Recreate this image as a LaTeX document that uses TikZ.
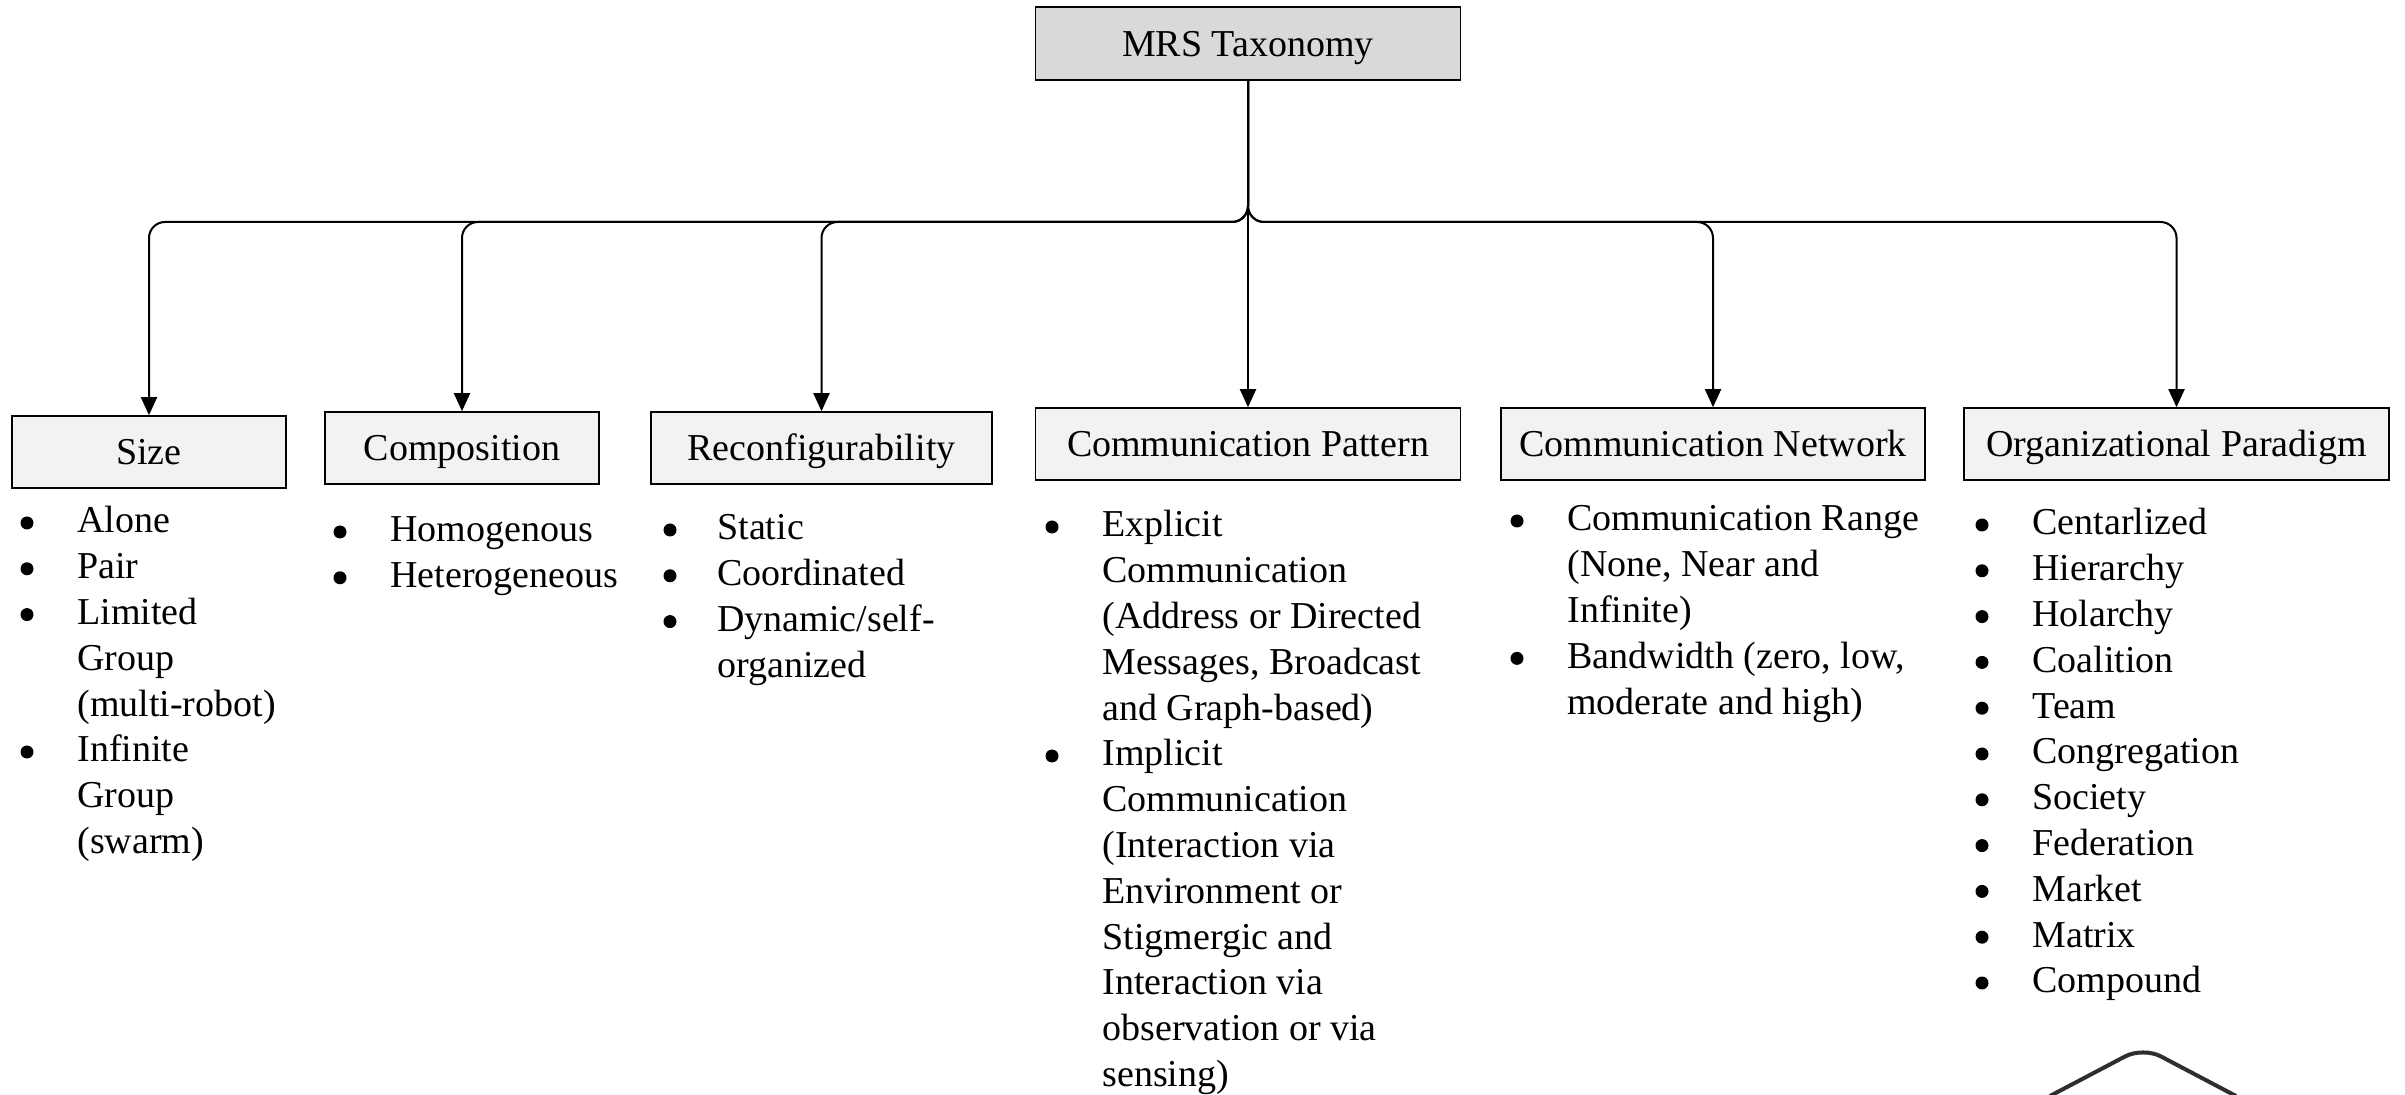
\documentclass[tikz,border=0pt]{standalone}
\usepackage{fontspec}
\setmainfont{Liberation Serif}
\usetikzlibrary{arrows.meta}
\definecolor{topgray}{HTML}{D9D9D9}
\definecolor{boxgray}{HTML}{F2F2F2}
\definecolor{logogray}{HTML}{2E2E2E}
\begin{document}
\begin{tikzpicture}[x=0.5pt,y=-0.5pt,
  every node/.style={font=\fontsize{19}{22.9}\selectfont, inner sep=0pt},
  catbox/.style={draw=black, line width=0.8pt, fill=boxgray, minimum height=36pt,
    text height=13pt, text depth=0pt},
  rootbox/.style={catbox, fill=topgray, minimum height=36.5pt},
  conn/.style={draw=black, line width=1pt, rounded corners=8pt,
    -{Triangle[length=9pt,width=8pt]}},
  listtext/.style={anchor=base west},
  bul/.style={fill=black}
]
\useasboundingbox (0,0) rectangle (2405,1095);
\fill[white] (0,0) rectangle (2405,1095);

% boxes
\node[rootbox, minimum width=212.5pt] (root) at (1248,43.5) {MRS Taxonomy};
\node[catbox, minimum width=137pt] (size) at (149,452) {Size};
\node[catbox, minimum width=137pt] (comp) at (462,448) {Composition};
\node[catbox, minimum width=170.5pt] (reconf) at (821.5,448) {Reconfigurability};
\node[catbox, minimum width=212.5pt] (cpat) at (1248,444) {Communication Pattern};
\node[catbox, minimum width=212pt] (cnet) at (1713,444) {Communication Network};
\node[catbox, minimum width=212.5pt] (org) at (2176.5,444) {Organizational Paradigm};

% connectors
\coordinate (bus) at (1248,222);
\draw[conn] (root.south) -- (root.south |- bus) -| (size.north);
\draw[conn] (root.south) -- (root.south |- bus) -| (comp.north);
\draw[conn] (root.south) -- (root.south |- bus) -| (reconf.north);
\draw[conn] (root.south) -- (cpat.north);
\draw[conn] (root.south) -- (root.south |- bus) -| (cnet.north);
\draw[conn] (root.south) -- (root.south |- bus) -| (org.north);

% lists
\node[listtext] (sizeL) at (77,533) {\begin{tabular}[t]{@{}l@{}}Alone\\Pair\\Limited\\Group\\(multi-robot)\\Infinite\\Group\\(swarm)\end{tabular}};
\foreach \k in {0,1,2,5} \fill[bul] (27,523+45.8*\k) circle[radius=3.25pt];

\node[listtext] (compL) at (390,542) {\begin{tabular}[t]{@{}l@{}}Homogenous\\Heterogeneous\end{tabular}};
\foreach \k in {0,1} \fill[bul] (340,532+45.8*\k) circle[radius=3.25pt];

\node[listtext] (reconfL) at (717,540) {\begin{tabular}[t]{@{}l@{}}Static\\Coordinated\\Dynamic/self-\\organized\end{tabular}};
\foreach \k in {0,1,2} \fill[bul] (670,530+45.8*\k) circle[radius=3.25pt];

\node[listtext] (cpatL) at (1102,537) {\begin{tabular}[t]{@{}l@{}}Explicit\\Communication\\(Address or Directed\\Messages, Broadcast\\and Graph-based)\\Implicit\\Communication\\(Interaction via\\Environment or\\Stigmergic and\\Interaction via\\observation or via\\sensing)\end{tabular}};
\foreach \k in {0,5} \fill[bul] (1052,527+45.8*\k) circle[radius=3.25pt];

\node[listtext] (cnetL) at (1567,531) {\begin{tabular}[t]{@{}l@{}}Communication Range\\(None, Near and\\Infinite)\\Bandwidth (zero, low,\\moderate and high)\end{tabular}};
\foreach \k in {0,3} \fill[bul] (1517,521+45.8*\k) circle[radius=3.25pt];

\node[listtext] (orgL) at (2032,535) {\begin{tabular}[t]{@{}l@{}}Centarlized\\Hierarchy\\Holarchy\\Coalition\\Team\\Congregation\\Society\\Federation\\Market\\Matrix\\Compound\end{tabular}};
\foreach \k in {0,...,10} \fill[bul] (1982,525+45.8*\k) circle[radius=3.25pt];

% partial logo outline at bottom right
\draw[logogray, line width=2pt, rounded corners=10pt] (2050,1096) -- (2143,1047) -- (2236,1096);
\end{tikzpicture}
\end{document}
